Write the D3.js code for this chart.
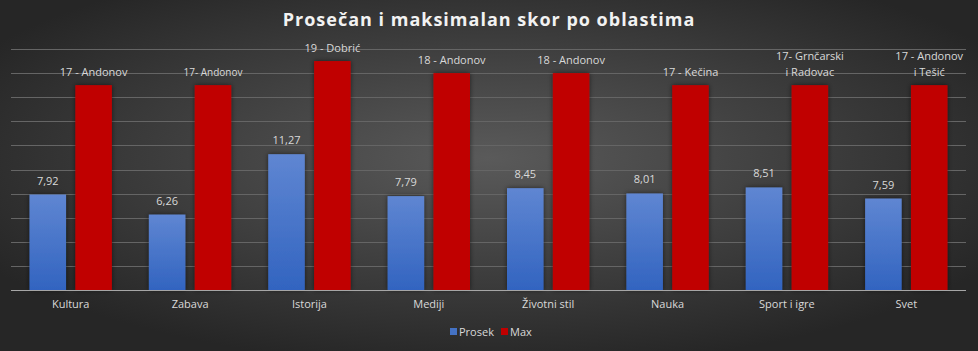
<!DOCTYPE html>
<html><head><meta charset="utf-8">
<script src="https://cdn.jsdelivr.net/npm/d3@7"></script>
<style>html,body{margin:0;padding:0;background:#333;}svg{display:block;}</style>
</head><body>
<script>
const categories = ["Kultura","Zabava","Istorija","Mediji","Životni stil","Nauka","Sport i igre","Svet"];
const prosek = [7.92,6.26,11.27,7.79,8.45,8.01,8.51,7.59];
const maxVals = [17,17,19,18,18,17,17,17];
const maxLabels = [["17 - Andonov"],["17- Andonov"],["19 - Dobrić"],["18 - Andonov"],["18 - Andonov"],["17 - Kečina"],["17- Grnčarski","i Radovac"],["17 - Andonov","i Tešić"]];
const seriesNames = ["Prosek","Max"];
const yTicks = [0,2,4,6,8,10,12,14,16,18,20];

(function(){
const W=978,H=351;
const svg=d3.select("body").append("svg").attr("width",W).attr("height",H);
const defs=svg.append("defs");
const bg=defs.append("radialGradient").attr("id","bg").attr("cx","50%").attr("cy","45%").attr("r","60%");
bg.append("stop").attr("offset","0%").attr("stop-color","#5a5a5a");
bg.append("stop").attr("offset","100%").attr("stop-color","#262626");
const bl=defs.append("linearGradient").attr("id","blue").attr("x1",0).attr("y1",0).attr("x2",0).attr("y2",1);
bl.append("stop").attr("offset","0%").attr("stop-color","#5f86d2");
bl.append("stop").attr("offset","100%").attr("stop-color","#3264c0");
const f=defs.append("filter").attr("id","sh").attr("x","-30%").attr("y","-10%").attr("width","160%").attr("height","120%");
f.append("feDropShadow").attr("dx",0).attr("dy",0).attr("stdDeviation",2.5).attr("flood-color","#000").attr("flood-opacity",0.55);

svg.append("rect").attr("width",W).attr("height",H).attr("fill","url(#bg)");

const pl=11,pr=966,pt=49,pb=290;
const x=d3.scaleBand().domain(categories).range([pl,pr]).paddingInner(0).paddingOuter(0);
const y=d3.scaleLinear().domain([0,20]).range([pb,pt]);
const step=x.bandwidth();
const bw=step*0.306, gap=step*0.078;

svg.append("g").selectAll("line").data(yTicks.slice(1)).join("line")
  .attr("x1",pl).attr("x2",pr).attr("y1",d=>Math.round(y(d))+0.5).attr("y2",d=>Math.round(y(d))+0.5)
  .attr("stroke","#656565").attr("stroke-width",1);

const font="'Open Sans', sans-serif";
const g=svg.append("g");
categories.forEach((c,i)=>{
  const gx=x(c)+(step-(2*bw+gap))/2;
  g.append("rect").attr("x",gx).attr("y",y(prosek[i])).attr("width",bw).attr("height",pb-y(prosek[i]))
    .attr("fill","url(#blue)").attr("filter","url(#sh)");
  g.append("rect").attr("x",gx+bw+gap).attr("y",y(maxVals[i])).attr("width",bw).attr("height",pb-y(maxVals[i]))
    .attr("fill","#c00000").attr("filter","url(#sh)");
  g.append("text").attr("x",gx+bw/2).attr("y",y(prosek[i])-10).attr("text-anchor","middle")
    .attr("font-family",font).attr("font-size",11).attr("fill","#d9d9d9").text(d3.format(".2f")(prosek[i]).replace(".",","));
  const lines=maxLabels[i];
  lines.forEach((t,k)=>{
    g.append("text").attr("x",gx+bw+gap+bw/2).attr("y",y(maxVals[i])-9-(lines.length-1-k)*16)
      .attr("text-anchor","middle").attr("font-family",font).attr("font-size",i===1?10:11).attr("fill","#d9d9d9").text(t);
  });
});

svg.append("line").attr("x1",pl).attr("x2",pr).attr("y1",pb+0.5).attr("y2",pb+0.5).attr("stroke","#a6a6a6");
const xa=svg.append("g").attr("transform",`translate(0,${pb})`).call(d3.axisBottom(x).tickSize(0).tickPadding(10));
xa.select(".domain").remove();
xa.selectAll("text").attr("font-family",font).attr("font-size",11).attr("fill","#d9d9d9");

svg.append("text").attr("x",489).attr("y",26).attr("text-anchor","middle").attr("font-family",font)
  .attr("font-weight","bold").attr("font-size",18).attr("letter-spacing",1).attr("fill","#f2f2f2").text("Prosečan i maksimalan skor po oblastima");

const leg=svg.append("g");
const legItems=[{n:seriesNames[0],c:"#4472c4",x:450},{n:seriesNames[1],c:"#c00000",x:501}];
legItems.forEach(d=>{
  leg.append("rect").attr("x",d.x).attr("y",328).attr("width",7).attr("height",7).attr("fill",d.c);
  leg.append("text").attr("x",d.x+9).attr("y",335.5).attr("font-family",font).attr("font-size",11).attr("fill","#d9d9d9").text(d.n);
});
})();
</script>
</body></html>
